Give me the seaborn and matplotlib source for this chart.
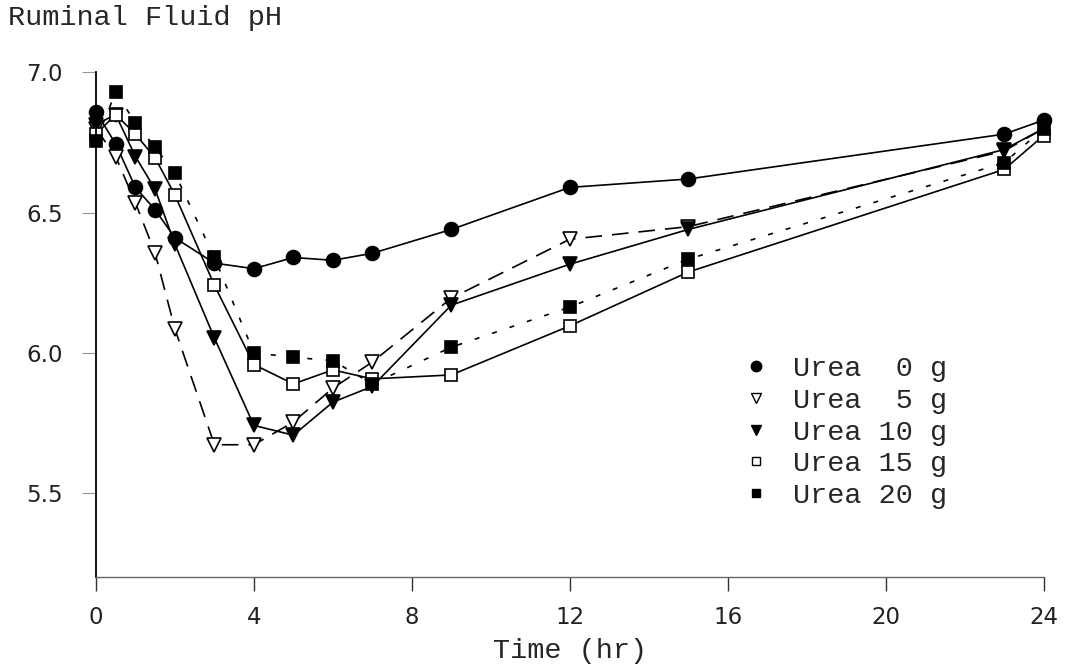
import matplotlib
matplotlib.use("Agg")
import matplotlib.pyplot as plt
from matplotlib.lines import Line2D
import pandas as pd
import seaborn as sns

sns.set_style("white")
plt.rcParams['font.family'] = ['Liberation Mono', 'DejaVu Sans']

# sampling times (hr)
time = [0, 0.5, 1, 1.5, 2, 3, 4, 5, 6, 7, 9, 12, 15, 23, 24]

# ruminal fluid pH per urea dose
urea0 = [6.86, 6.745, 6.59, 6.51, 6.41, 6.32, 6.30, 6.34, 6.33, 6.355, 6.44, 6.59, 6.62, 6.78, 6.83]
urea5 = [6.80, 6.70, 6.535, 6.355, 6.085, 5.672, 5.672, 5.753, 5.874, 5.967, 6.195, 6.405, 6.45, 6.72, 6.80]
urea10 = [6.814, 6.85, 6.70, 6.583, 6.387, 6.053, 5.741, 5.706, 5.824, 5.88, 6.17, 6.316, 6.44, 6.725, 6.80]
urea15 = [6.78, 6.85, 6.78, 6.695, 6.563, 6.241, 5.958, 5.889, 5.939, 5.907, 5.921, 6.096, 6.288, 6.654, 6.775]
urea20 = [6.755, 6.93, 6.82, 6.733, 6.64, 6.34, 6.0, 5.984, 5.972, 5.889, 6.02, 6.163, 6.334, 6.678, 6.80]

labels = ['Urea  0 g', 'Urea  5 g', 'Urea 10 g', 'Urea 15 g', 'Urea 20 g']
xticks = [0, 4, 8, 12, 16, 20, 24]
yticks = [5.5, 6.0, 6.5, 7.0]

# marker, face colour, size, line style
styles = [
    ('o', 'black', 10, '-'),
    ('v', 'white', 10, (0, (10, 6))),
    ('v', 'black', 10, '-'),
    ('s', 'white', 8.5, '-'),
    ('s', 'black', 8.5, (0, (3, 8))),
]

series = [urea0, urea5, urea10, urea15, urea20]

fig = plt.figure(figsize=(10.66, 6.71), dpi=100)
ax = fig.add_axes([0.090, 0.140, 0.889, 0.752])

for vals, (m, fc, ms, ls) in zip(series, styles):
    df = pd.DataFrame({'Time': time, 'pH': vals})
    sns.lineplot(data=df, x='Time', y='pH', ax=ax, color='black', lw=1.2,
                 linestyle=ls, marker=m, markersize=ms, markerfacecolor=fc,
                 markeredgecolor='black', markeredgewidth=1.2, errorbar=None,
                 clip_on=False)

ax.set_xlim(0, 24)
ax.set_ylim(5.2, 7.0)
ax.set_xticks(xticks)
ax.set_yticks(yticks)
ax.set_xticklabels([str(t) for t in xticks])
ax.set_yticklabels(['%.1f' % t for t in yticks])
ax.set_xlabel('')
ax.set_ylabel('')

for lab in ax.get_xticklabels() + ax.get_yticklabels():
    lab.set_family('DejaVu Sans')
    lab.set_fontsize(16.5)
    lab.set_color('#222222')

ax.tick_params(axis='x', direction='out', length=10, width=1, color='#333333', pad=11, bottom=True)
ax.tick_params(axis='y', direction='out', length=10, width=0.8, color='#999999', pad=14, left=True)

sns.despine(ax=ax)
ax.spines['left'].set_color('black')
ax.spines['left'].set_linewidth(1.3)
ax.spines['bottom'].set_color('#666666')
ax.spines['bottom'].set_linewidth(1.0)

handles = [Line2D([], [], marker=m, linestyle='none', markerfacecolor=fc,
                  markeredgecolor='black', markersize=ms * 0.75, markeredgewidth=1)
           for (m, fc, ms, ls) in styles]
ax.legend(handles, labels, loc='upper left', bbox_to_anchor=(728 / 1066, 1 - 342 / 671),
          bbox_transform=fig.transFigure, frameon=False, fontsize=20.5,
          handlelength=1.0, handletextpad=0.8, labelspacing=0.2, borderpad=0)

fig.text(8 / 1066, 1 - 18 / 671, 'Ruminal Fluid pH', fontsize=20.5, va='center', ha='left')
fig.text(570 / 1066, 1 - 651 / 671, 'Time (hr)', fontsize=20.5, va='center', ha='center')

fig.savefig('out.png', dpi=100)
